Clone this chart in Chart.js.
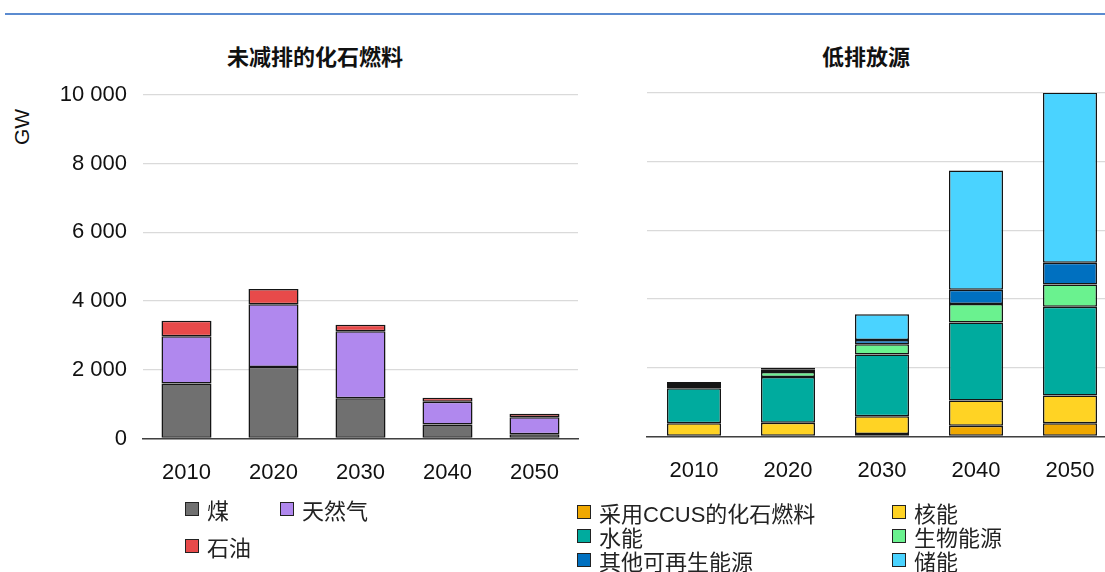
<!DOCTYPE html>
<html>

<head>
    <title>未减排的化石燃料 / 低排放源</title>
    <script src="https://cdn.jsdelivr.net/npm/chart.js"></script>
    <style>
        body { margin: 0; width: 1105px; height: 572px; overflow: hidden; background: #fff; position: relative; }
        .topline { position: absolute; left: 5px; top: 13px; width: 1100px; height: 2px; background: #5b8bd0; }
        .title { position: absolute; top: 39px; font: bold 22px "Noto Sans CJK SC", sans-serif; color: #111; transform: translateX(-50%); white-space: nowrap; }
        .unit { position: absolute; left: 22px; top: 127px; font: 21px "Liberation Sans", Arial, sans-serif; color: #111; transform: translate(-50%, -50%) rotate(-90deg); }
        canvas { position: absolute; }
        .legend { position: absolute; display: grid; font: 22px "Liberation Sans", "Noto Sans CJK SC", sans-serif; color: #222; }
        .legend .item { display: flex; align-items: center; white-space: nowrap; }
        .legend .box { width: 12px; height: 12px; border: 1.5px solid #222; margin-right: 8px; flex: none; }
    </style>
</head>

<body>
<div class="topline"></div>
<div class="title" style="left:315px">未减排的化石燃料</div>
<div class="title" style="left:866px">低排放源</div>
<div class="unit">GW</div>

<canvas id="fossilChart" width="600" height="420" style="left:0;top:80px"></canvas>
<canvas id="lowChart" width="540" height="420" style="left:600px;top:78px"></canvas>

<div class="legend" id="fossilLegend" style="left:185px;top:490px;grid-template-columns:95px 120px;grid-auto-rows:37px"></div>
<div class="legend" id="lowLegend" style="left:577px;top:500px;grid-template-columns:315px 200px;grid-auto-rows:24px"></div>

<script>
    var years = ['2010', '2020', '2030', '2040', '2050'];
    var yTicks = [0, 2000, 4000, 6000, 8000, 10000];

    // unabated fossil fuels, GW
    var coal = [1600, 2080, 1175, 410, 125];
    var gas = [1375, 1830, 1945, 660, 495];
    var oil = [450, 440, 195, 115, 100];

    // low-emission sources, GW
    var fossilCcus = [0, 0, 75, 315, 385];
    var nuclear = [385, 400, 515, 730, 805];
    var hydro = [1020, 1335, 1795, 2275, 2590];
    var bioenergy = [65, 145, 300, 535, 645];
    var otherRenewables = [60, 60, 125, 420, 630];
    var storage = [60, 65, 750, 3470, 4960];

    var fossilSeries = [
        { label: '煤', data: coal, color: '#707070' },
        { label: '天然气', data: gas, color: '#b088ee' },
        { label: '石油', data: oil, color: '#e84a4a' }
    ];
    var lowSeries = [
        { label: '采用CCUS的化石燃料', data: fossilCcus, color: '#f0a800' },
        { label: '核能', data: nuclear, color: '#ffd324' },
        { label: '水能', data: hydro, color: '#00ab9e' },
        { label: '生物能源', data: bioenergy, color: '#6af28f' },
        { label: '其他可再生能源', data: otherRenewables, color: '#0070c0' },
        { label: '储能', data: storage, color: '#4ad3ff' }
    ];

    function formatNumber(v) {
        return String(v).replace(/\B(?=(\d{3})+(?!\d))/g, ' ');
    }

    function makeChart(canvasId, series, showYLabels, leftWidth, rightPad) {
        var ctx = document.getElementById(canvasId).getContext('2d');
        return new Chart(ctx, {
            type: 'bar',
            data: {
                labels: years,
                datasets: series.map(function (s) {
                    return {
                        label: s.label,
                        data: s.data,
                        backgroundColor: s.color,
                        borderColor: '#151515',
                        borderWidth: 1.5,
                        borderSkipped: false,
                        barPercentage: 1,
                        categoryPercentage: 0.575
                    };
                })
            },
            options: {
                responsive: false,
                animation: false,
                devicePixelRatio: 1,
                layout: { padding: { left: 0, right: rightPad, top: 15, bottom: 11.5 } },
                plugins: {
                    legend: { display: false },
                    title: { display: false },
                    tooltip: { enabled: false }
                },
                scales: {
                    x: {
                        stacked: true,
                        grid: { display: false, drawTicks: false },
                        border: { display: true, color: '#404040', width: 1.5 },
                        ticks: {
                            padding: 21,
                            color: '#111',
                            font: { family: '"Liberation Sans", Arial, sans-serif', size: 22 }
                        },
                        afterFit: function (scale) {
                            scale.height = 50;
                            scale.paddingLeft = 0;
                            scale.paddingRight = 0;
                        }
                    },
                    y: {
                        stacked: true,
                        min: 0,
                        max: 10000,
                        afterBuildTicks: function (scale) {
                            scale.ticks = yTicks.map(function (v) { return { value: v }; });
                        },
                        grid: { color: '#dadada', lineWidth: 1.3, drawTicks: false },
                        border: { display: false },
                        ticks: {
                            display: showYLabels,
                            padding: 16,
                            color: '#111',
                            font: { family: '"Liberation Sans", Arial, sans-serif', size: 22 },
                            callback: function (v) { return formatNumber(v); }
                        },
                        afterFit: function (scale) {
                            scale.width = leftWidth;
                            scale.paddingTop = 0;
                            scale.paddingBottom = 0;
                        }
                    }
                }
            }
        });
    }

    function makeLegend(containerId, series) {
        var box = document.getElementById(containerId);
        series.forEach(function (s) {
            var item = document.createElement('div');
            item.className = 'item';
            var sq = document.createElement('span');
            sq.className = 'box';
            sq.style.background = s.color;
            var txt = document.createElement('span');
            txt.textContent = s.label;
            item.appendChild(sq);
            item.appendChild(txt);
            box.appendChild(item);
        });
    }

    makeChart('fossilChart', fossilSeries, true, 143, 22);
    makeChart('lowChart', lowSeries, false, 47, 23);
    makeLegend('fossilLegend', fossilSeries);
    makeLegend('lowLegend', lowSeries);
</script>
</body>

</html>
